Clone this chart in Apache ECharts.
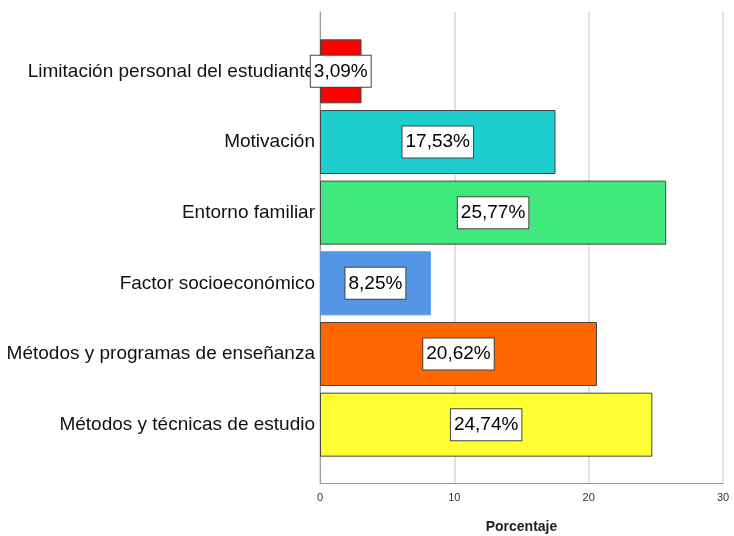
<!DOCTYPE html>
<html>
<head>
<meta charset="utf-8">
<script src="https://cdn.jsdelivr.net/npm/echarts@6/dist/echarts.min.js"></script>
<style>
  html, body { margin: 0; padding: 0; background: #fff; }
  #chart { width: 734px; height: 536px; }
</style>
</head>
<body>
<div id="chart"></div>
<script>
// categorias de arriba hacia abajo
const categories = [
  'Limitación personal del estudiante',
  'Motivación',
  'Entorno familiar',
  'Factor socioeconómico',
  'Métodos y programas de enseñanza',
  'Métodos y técnicas de estudio'
];
const percentages = [3.09, 17.53, 25.77, 8.25, 20.62, 24.74];
const barColors = ['#ff0000', '#1ecdcd', '#40e87e', '#5595e5', '#ff6600', '#ffff33'];
const barBorders = ['#444', '#444', '#444', '#5595e5', '#444', '#444'];
const xTicks = [0, 10, 20, 30];

const font = "'Liberation Sans', Arial, sans-serif";

const chart = echarts.init(document.getElementById('chart'));

const option = {
  backgroundColor: '#fff',
  animation: false,
  grid: [
    // marco con lineas de cuadricula
    { left: 320, right: 11, top: 12, bottom: 53, outerBoundsMode: 'none', containLabel: false },
    // area de las barras
    { left: 320, right: 11, top: 36, bottom: 76, outerBoundsMode: 'none', containLabel: false }
  ],
  xAxis: [
    {
      gridIndex: 0,
      type: 'value',
      min: xTicks[0],
      max: xTicks[xTicks.length - 1],
      interval: 10,
      name: 'Porcentaje',
      nameLocation: 'middle',
      nameGap: 37,
      nameTextStyle: { fontSize: 14, fontWeight: 'bold', color: '#222', fontFamily: font },
      axisLine: { show: true, lineStyle: { color: '#999', width: 1 } },
      axisTick: { show: false },
      axisLabel: { fontSize: 11, color: '#333', margin: 9, fontFamily: font },
      splitLine: { show: true, lineStyle: { color: '#d6d6d6', width: 1.5 } }
    },
    {
      gridIndex: 1,
      type: 'value',
      min: xTicks[0],
      max: xTicks[xTicks.length - 1],
      show: false
    }
  ],
  yAxis: [
    {
      gridIndex: 0,
      type: 'category',
      data: categories,
      inverse: true,
      axisLine: { show: true, lineStyle: { color: '#999', width: 1 } },
      axisTick: { show: false },
      axisLabel: { show: false },
      splitLine: { show: false }
    },
    {
      gridIndex: 1,
      type: 'category',
      data: categories,
      inverse: true,
      axisLine: { show: false },
      axisTick: { show: false },
      axisLabel: {
        fontSize: 19,
        color: '#111',
        margin: 5,
        fontFamily: font
      }
    }
  ],
  series: [
    {
      type: 'bar',
      xAxisIndex: 1,
      yAxisIndex: 1,
      barWidth: 64,
      data: percentages.map((v, i) => ({
        value: v,
        itemStyle: { color: barColors[i], borderColor: barBorders[i], borderWidth: 1 }
      })),
      label: {
        show: true,
        position: 'inside',
        formatter: p => p.value.toFixed(2).replace('.', ',') + '%',
        fontSize: 19,
        lineHeight: 22,
        color: '#000',
        fontFamily: font,
        backgroundColor: '#fff',
        borderColor: '#444',
        borderWidth: 1,
        padding: [5, 3, 4, 3]
      }
    }
  ]
};

chart.setOption(option);
</script>
</body>
</html>
